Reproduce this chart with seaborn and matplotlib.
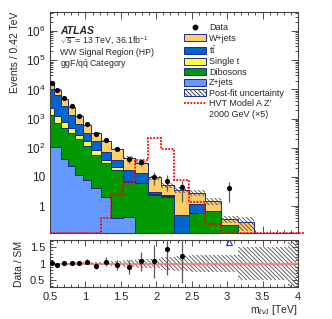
import numpy as np
import seaborn as sns
import matplotlib.pyplot as plt
from matplotlib.lines import Line2D
from matplotlib.patches import Patch
from matplotlib.ticker import FixedLocator, FuncFormatter, LogLocator, MultipleLocator, NullFormatter

# m_lvJ bin edges [TeV]
edges = [0.5, 0.555, 0.65, 0.755, 0.855, 0.96, 1.085, 1.22, 1.36, 1.53, 1.70,
         1.88, 2.06, 2.255, 2.46, 2.685, 2.91, 3.15, 3.385, 3.62, 3.86, 4.1]

# events / 0.42 TeV
data    = [16500, 9400, 4900, 2600, 1260, 665, 302, 178, 90, 41, 32, 10.2, 7.3, 4.4, 0, 0, 4.1, 0, 0, 0, 0]
wjets   = [6300, 3400, 2150, 1205, 580, 307, 167, 94, 55, 28.6, 16.6, 6.6, 2.6, 3.1, 1.7, 0.8, 0.13, 0.29, 0, 0, 0]
ttbar   = [7650, 5200, 1950, 900, 390, 155, 80, 35, 16, 9.9, 7.1, 0.4, 0.3, 0.46, 0.64, 0, 0, 0, 0, 0, 0]
singlet = [980, 490, 280, 160, 80, 54, 28, 8.6, 5.2, 0.6, 0.3, 0.1, 0.1, 0, 0, 0, 0, 0, 0, 0, 0]
diboson = [1260, 605, 428, 287, 188, 103, 53, 28, 17, 6.5, 6.0, 2.5, 2.1, 0.04, 0.56, 0.7, 0.23, 0, 0, 0, 0]
zjets   = [110, 105, 42, 23, 12, 7.9, 4.1, 2.1, 0.38, 0.43, 0, 0, 0, 0, 0, 0, 0, 0, 0, 0, 0]
hvt_x5  = [0, 0, 0, 0, 0, 0, 0, 0.38, 2.4, 6.9, 38, 215, 90, 7.9, 1.4, 0.25, 0, 0, 0, 0, 0]
# relative post-fit uncertainty
rel_unc = [0.03, 0.03, 0.03, 0.03, 0.04, 0.04, 0.05, 0.06, 0.08, 0.12, 0.14,
           0.15, 0.2, 0.22, 0.25, 0.25, 0.25, 0.5, 0.5, 0.5, 1.0]

BIN_UNIT = 0.42
YMIN, YMAX = 0.12, 4.5e6
RMIN, RMAX = 0.28, 1.72

navy = "#1c2a8c"
stack = [("Z+jets", zjets, "#6699ff"),
         ("Dibosons", diboson, "#009900"),
         ("Single t", singlet, "#ffff33"),
         (r"t$\bar{\mathrm{t}}$", ttbar, "#0066cc"),
         ("W+jets", wjets, "#ffcc66")]

sns.set_style("ticks", {"xtick.direction": "in", "ytick.direction": "in"})
plt.rcParams["font.family"] = ["Liberation Sans", "DejaVu Sans"]
plt.rcParams["mathtext.fontset"] = "custom"
plt.rcParams["mathtext.rm"] = "Liberation Sans"
plt.rcParams["mathtext.it"] = "Liberation Sans:italic"
plt.rcParams["hatch.linewidth"] = 0.6

edges = np.array(edges)
centers = 0.5 * (edges[1:] + edges[:-1])
widths = np.diff(edges)
data = np.array(data, dtype=float)
err = np.sqrt(data * widths / BIN_UNIT) * BIN_UNIT / widths

fig = plt.figure(figsize=(3.32, 3.19), dpi=100)
ax = fig.add_axes([0.1506, 0.2696, 0.747, 0.6928])
rax = fig.add_axes([0.1506, 0.1003, 0.747, 0.1473])

# stacked backgrounds
bottom = np.full(len(centers), 1e-4)
for name, vals, col in stack:
    top = bottom + np.array(vals)
    ax.stairs(top, edges, baseline=bottom, fill=True, facecolor=col,
              edgecolor=navy, linewidth=0.7, zorder=2)
    bottom = top
mc = bottom
unc = np.array(rel_unc)

hatch = "\\" * 8
ax.stairs(mc * (1 + unc), edges, baseline=mc * (1 - unc), fill=True, facecolor="none",
          edgecolor="0.3", hatch=hatch, linewidth=0, zorder=3)

# signal
ax.stairs(np.maximum(hvt_x5, YMIN), edges, baseline=None, color="red",
          linestyle=(0, (1.0, 0.8)), linewidth=1.3, zorder=4, clip_on=False)

# data
m = data > 0
ax.errorbar(centers[m], data[m], yerr=err[m], fmt="none", ecolor="0.35", elinewidth=0.9, zorder=5)
sns.scatterplot(x=centers[m], y=data[m], ax=ax, color="black", s=14, linewidth=0, zorder=6)

ax.set_yscale("log")
ax.set_xlim(0.5, 4.0)
ax.set_ylim(YMIN, YMAX)
ax.yaxis.set_major_locator(FixedLocator([10.0 ** k for k in range(0, 7)]))
ax.yaxis.set_major_formatter(FuncFormatter(
    lambda v, p: "1" if v == 1 else ("10" if v == 10 else r"$10^{%d}$" % round(np.log10(v)))))
ax.yaxis.set_minor_locator(LogLocator(base=10, subs=np.arange(2, 10), numticks=30))
ax.yaxis.set_minor_formatter(NullFormatter())
ax.xaxis.set_major_locator(MultipleLocator(0.5))
ax.xaxis.set_minor_locator(MultipleLocator(0.1))
ax.tick_params(labelbottom=False)
ax.set_xlabel("")
ax.set_ylabel("Events / 0.42 TeV", fontsize=7.5, loc="top")

# labels
ax.text(0.04, 0.915, "ATLAS", transform=ax.transAxes, fontsize=7.5,
        fontweight="bold", fontstyle="italic", va="center")
ax.text(0.04, 0.868, r"$\sqrt{\mathrm{s}}$ = 13 TeV, 36.1fb$^{-1}$", transform=ax.transAxes,
        fontsize=6.3, va="center")
ax.text(0.04, 0.818, "WW Signal Region (HP)", transform=ax.transAxes, fontsize=6.3, va="center")
ax.text(0.04, 0.766, r"ggF/q$\bar{\mathrm{q}}$ Category", transform=ax.transAxes,
        fontsize=6.3, va="center")

handles = [Line2D([], [], marker="o", color="black", markersize=3.2, linestyle="none")]
labels = ["Data"]
for name, vals, col in stack[::-1]:
    handles.append(Patch(facecolor=col, edgecolor=navy, linewidth=0.7))
    labels.append(name)
handles.append(Patch(facecolor="white", edgecolor=navy, hatch=hatch, linewidth=0.7))
labels.append("Post-fit uncertainty")
handles.append(Line2D([], [], color="red", linestyle=(0, (1.0, 0.8)), linewidth=1.3))
labels.append("HVT Model A Z\u2032")
handles.append(Line2D([], [], color="none"))
labels.append("2000 GeV (\u00d75)")
ax.legend(handles, labels, loc="upper left", bbox_to_anchor=(0.54, 0.95), frameon=False,
          fontsize=6.5, handlelength=2.4, handleheight=0.8, labelspacing=0.17,
          handletextpad=0.4, borderpad=0, borderaxespad=0)

# ratio panel
rm = (data > 0) & (mc > 1e-3)
ratio = np.where(rm, data / mc, np.nan)
rerr = np.where(rm, err / mc, np.nan)
rax.stairs(1 + unc, edges, baseline=1 - unc, fill=True, facecolor="none",
           edgecolor="0.3", hatch=hatch, linewidth=0, zorder=2)
rax.axhline(1, color="#ff7777", linewidth=1.2, zorder=3)
inr = rm & (ratio < RMAX)
rax.errorbar(centers[inr], ratio[inr], yerr=rerr[inr], fmt="none", ecolor="0.35",
             elinewidth=0.9, zorder=4)
sns.scatterplot(x=centers[inr], y=ratio[inr], ax=rax, color="black", s=14, linewidth=0, zorder=5)
off = rm & (ratio >= RMAX)
rax.plot(centers[off], np.full(off.sum(), RMAX - 0.07), marker="^", linestyle="none",
         markersize=4, markerfacecolor="none", markeredgecolor="#3344ff", markeredgewidth=0.9)

rax.set_xlim(0.5, 4.0)
rax.set_ylim(RMIN, RMAX)
rax.yaxis.set_major_locator(FixedLocator([0.5, 1.0, 1.5]))
rax.yaxis.set_major_formatter(FuncFormatter(lambda v, p: "%g" % v))
rax.yaxis.set_minor_locator(MultipleLocator(0.1))
rax.xaxis.set_major_locator(MultipleLocator(0.5))
rax.xaxis.set_minor_locator(MultipleLocator(0.1))
rax.xaxis.set_major_formatter(FuncFormatter(lambda v, p: "%g" % v))
rax.set_ylabel("Data / SM", fontsize=7.5)
rax.set_xlabel(r"m$_{\ell\nu\mathrm{J}}$ [TeV]", fontsize=7.5, ha="right", va="top")
rax.xaxis.set_label_coords(1.0, -0.33)

for a in (ax, rax):
    a.tick_params(which="both", direction="in", top=True, right=True, labelsize=8,
                  width=0.6, color="0.2")
    a.tick_params(which="major", length=5)
    a.tick_params(which="minor", length=2.5)
    for s in a.spines.values():
        s.set_linewidth(0.8)
        s.set_color("0.25")
rax.tick_params(which="major", length=4)
rax.tick_params(which="minor", length=2)
ax.tick_params(axis="y", which="major", labelsize=8.5)

fig.savefig("out.png", dpi=100)
